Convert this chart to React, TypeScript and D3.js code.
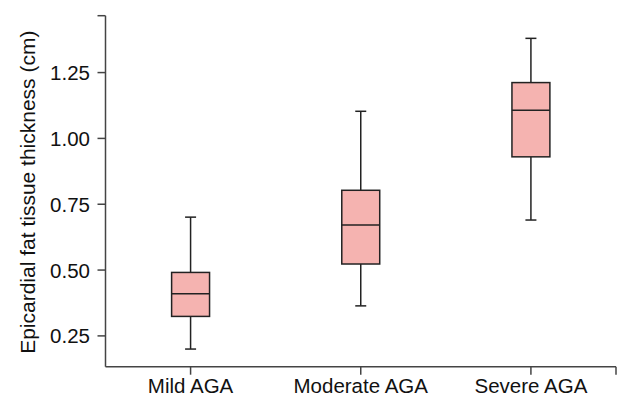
import { scaleBand, scaleLinear } from 'd3'

const categories = ['Mild AGA', 'Moderate AGA', 'Severe AGA']
const whiskerLow = [0.2, 0.364, 0.69]
const q1 = [0.324, 0.523, 0.93]
const median = [0.41, 0.671, 1.107]
const q3 = [0.491, 0.803, 1.212]
const whiskerHigh = [0.701, 1.103, 1.38]
const yTicks = [0.25, 0.5, 0.75, 1.0, 1.25]
const yLabel = 'Epicardial fat tissue thickness (cm)'

const width = 617
const height = 398

const margin = { top: 15.7, right: 1, bottom: 31.3, left: 105.5 }

const font = '"Liberation Sans", Arial, sans-serif'
const axisColor = '#444'
const boxStroke = '#222'
const boxFill = '#f5b3b0'

function App() {
  const xScale = scaleBand<string>()
    .domain(categories)
    .range([margin.left, width - margin.right])
    .padding(0)

  const yScale = scaleLinear()
    .domain([0.133, 1.466])
    .range([height - margin.bottom, margin.top])

  const x0 = margin.left
  const x1 = width - margin.right
  const yBottom = height - margin.bottom
  const yTop = margin.top
  const tickLen = 8
  const boxW = xScale.bandwidth() * 0.223
  const capW = 11

  return (
    <svg
      width={width}
      height={height}
      style={{ position: 'absolute', left: 0, top: 0, background: '#fff' }}
      fontFamily={font}
    >
      {/* y axis */}
      <line x1={x0} x2={x0} y1={yTop} y2={yBottom} stroke={axisColor} strokeWidth={1.5} />
      <line x1={x0 - tickLen} x2={x0} y1={yTop} y2={yTop} stroke={axisColor} strokeWidth={1.5} />
      {yTicks.map((t) => (
        <g key={t}>
          <line
            x1={x0 - tickLen}
            x2={x0}
            y1={yScale(t)}
            y2={yScale(t)}
            stroke={axisColor}
            strokeWidth={1.5}
          />
          <text
            x={x0 - 15.5}
            y={yScale(t)}
            textAnchor="end"
            dominantBaseline="central"
            fontSize={20.5}
            fill="#111"
          >
            {t.toFixed(2)}
          </text>
        </g>
      ))}
      <text
        transform={`translate(35,${(yTop + yBottom) / 2 + 1}) rotate(-90)`}
        textAnchor="middle"
        fontSize={21}
        fill="#111"
      >
        {yLabel}
      </text>

      {/* x axis */}
      <line x1={x0} x2={x1} y1={yBottom} y2={yBottom} stroke={axisColor} strokeWidth={1.5} />
      <line x1={x1} x2={x1} y1={yBottom} y2={yBottom + tickLen} stroke={axisColor} strokeWidth={1.5} />
      {categories.map((c) => {
        const cx = xScale(c)! + xScale.bandwidth() / 2
        return (
          <g key={c}>
            <line x1={cx} x2={cx} y1={yBottom} y2={yBottom + tickLen} stroke={axisColor} strokeWidth={1.5} />
            <text x={cx} y={393} textAnchor="middle" fontSize={20.5} fill="#111">
              {c}
            </text>
          </g>
        )
      })}

      {/* boxes */}
      {categories.map((c, i) => {
        const cx = xScale(c)! + xScale.bandwidth() / 2
        return (
          <g key={c} stroke={boxStroke} strokeWidth={1.5}>
            <line x1={cx} x2={cx} y1={yScale(whiskerHigh[i])} y2={yScale(q3[i])} />
            <line x1={cx} x2={cx} y1={yScale(q1[i])} y2={yScale(whiskerLow[i])} />
            <line x1={cx - capW / 2} x2={cx + capW / 2} y1={yScale(whiskerHigh[i])} y2={yScale(whiskerHigh[i])} />
            <line x1={cx - capW / 2} x2={cx + capW / 2} y1={yScale(whiskerLow[i])} y2={yScale(whiskerLow[i])} />
            <rect
              x={cx - boxW / 2}
              y={yScale(q3[i])}
              width={boxW}
              height={yScale(q1[i]) - yScale(q3[i])}
              fill={boxFill}
            />
            <line x1={cx - boxW / 2} x2={cx + boxW / 2} y1={yScale(median[i])} y2={yScale(median[i])} />
          </g>
        )
      })}
    </svg>
  )
}

export default App
